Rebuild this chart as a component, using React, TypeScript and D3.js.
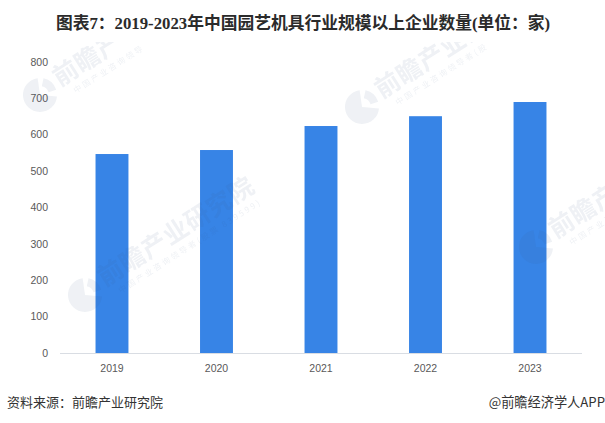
import React from "react";
import * as d3 from "d3";

const years = ["2019", "2020", "2021", "2022", "2023"];
const companies = [547, 558, 624, 651, 690];
const yTicks = [0, 100, 200, 300, 400, 500, 600, 700, 800];

const titleText = "图表7：2019-2023年中国园艺机具行业规模以上企业数量(单位：家)";
const sourceText = "资料来源：前瞻产业研究院";
const brandText = "@前瞻经济学人APP";
const markSpots = [
  { x: 40, y: 95, main: "前瞻产", sub: "中国产业咨询领导" },
  { x: 362, y: 107, main: "前瞻产业研", sub: "中国产业咨询领导者(股" },
  { x: 85, y: 295, main: "前瞻产业研究院", sub: "中国产业咨询领导者(股票 839599)" },
  { x: 536, y: 247, main: "前瞻产", sub: "中国产业咨" },
];

const W = 605, H = 423;
const cjk = "'Noto Sans CJK SC', sans-serif";
const sans = "'Liberation Sans', sans-serif";
const deg = Math.PI / 180;
const logoBody = d3.arc()({ innerRadius: 0, outerRadius: 17, startAngle: 95 * deg, endAngle: 352 * deg }) ?? "";
const logoCap = d3.arc()({ innerRadius: 9, outerRadius: 17, startAngle: 12 * deg, endAngle: 72 * deg }) ?? "";

export default function App() {
  const x = d3.scaleBand<string>().domain(years).range([60, 582]).paddingInner(0.685).paddingOuter(0.34);
  const y = d3.scaleLinear().domain([0, 800]).range([353, 62]);
  return (
    <svg width={W} height={H} viewBox={`0 0 ${W} ${H}`}
      style={{ position: "absolute", left: 0, top: 0, background: "#fff" }}>
      <defs>
        <clipPath id="markArea"><rect x={0} y={42} width={W} height={H - 42} /></clipPath>
      </defs>
      <text x={W / 2 + 0.5} y={29} textAnchor="middle" fontFamily={"'Liberation Serif', 'Noto Sans CJK SC', serif"}
        fontWeight={700} fontSize={16.75} fill="#2b2b2b">{titleText}</text>
      {yTicks.map(t => (
        <text key={t} x={48} y={y(t)} dy="0.35em" textAnchor="end"
          fontFamily={sans} fontSize={10.5} fill="#595959">{t}</text>
      ))}
      {years.map((yr, i) => (
        <rect key={yr} x={x(yr)} y={y(companies[i])} width={x.bandwidth()}
          height={y(0) - y(companies[i])} fill="#3784e6" />
      ))}
      <line x1={60} x2={582} y1={y(0) + 0.5} y2={y(0) + 0.5} stroke="#d9dde3" strokeWidth={1} />
      {years.map(yr => (
        <text key={yr} x={x(yr)! + x.bandwidth() / 2} y={368} dy="0.35em" textAnchor="middle"
          fontFamily={sans} fontSize={10.5} fill="#595959">{yr}</text>
      ))}
      <g clipPath="url(#markArea)" opacity={0.085} fill="#3c5a86">
        {markSpots.map((m, i) => (
          <g key={i} transform={`translate(${m.x},${m.y})`}>
            <path d={logoBody} />
            <path d={logoCap} />
            <g transform="rotate(-32.5)">
              <text x={21} y={4} fontFamily={cjk} fontWeight={700} fontSize={25} letterSpacing={0.7}>{m.main}</text>
              <text x={31} y={18} fontFamily={cjk} fontSize={8} letterSpacing={2.3}>{m.sub}</text>
            </g>
          </g>
        ))}
      </g>
      <text x={7} y={407} fontFamily={cjk} fontSize={13} fill="#333">{sourceText}</text>
      <text x={605} y={407} textAnchor="end" fontFamily={cjk} fontSize={13.2} fill="#333">{brandText}</text>
    </svg>
  );
}
